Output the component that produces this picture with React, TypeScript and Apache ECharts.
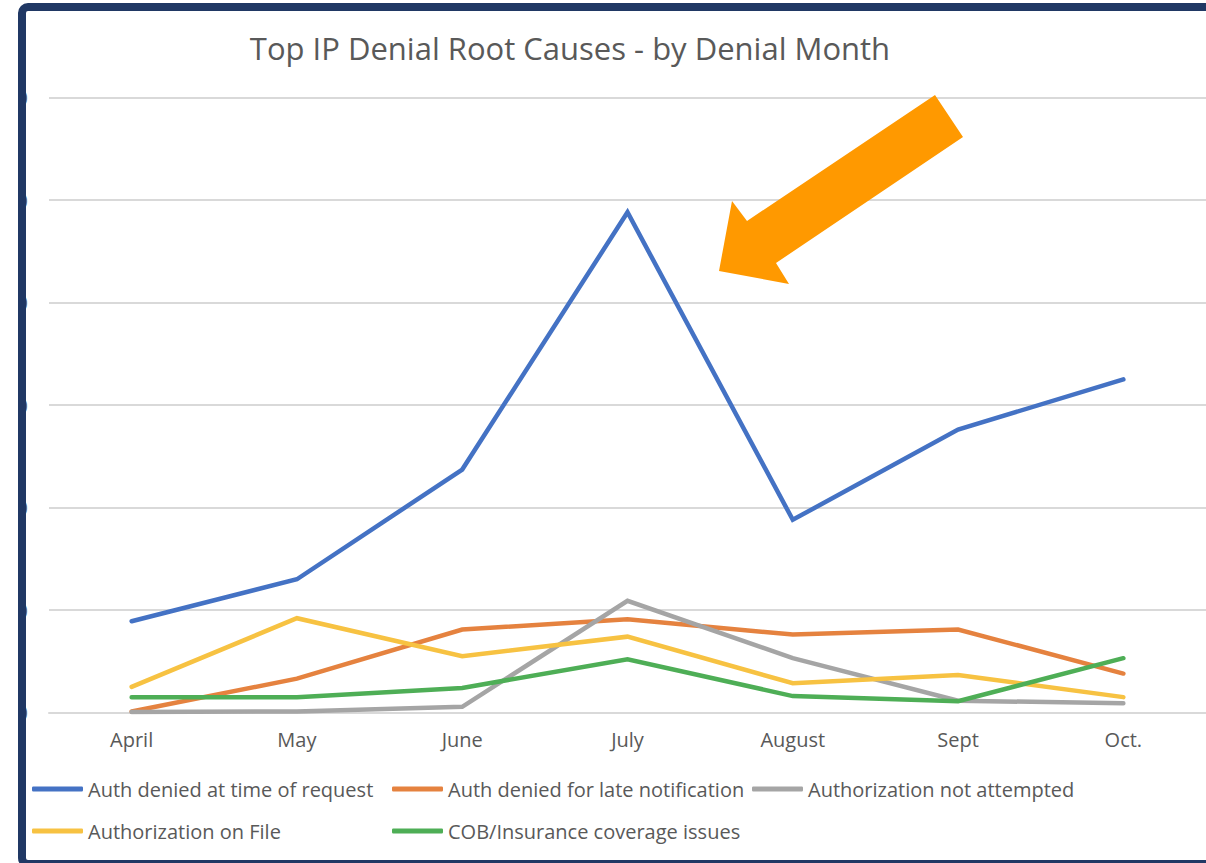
import React, { useEffect, useRef } from "react";
import * as echarts from "echarts";

const months = ["April", "May", "June", "July", "August", "Sept", "Oct."];
const authDeniedRequest = [8.9, 13.0, 23.7, 48.8, 18.8, 27.6, 32.5];
const authDeniedLate = [0.1, 3.3, 8.1, 9.1, 7.6, 8.1, 3.8];
const authNotAttempted = [0.05, 0.1, 0.55, 10.9, 5.3, 1.15, 0.9];
const authOnFile = [2.5, 9.2, 5.5, 7.4, 2.85, 3.65, 1.5];
const cobIssues = [1.5, 1.5, 2.4, 5.2, 1.6, 1.1, 5.3];

const seriesNames = [
  "Auth denied at time of request",
  "Auth denied for late notification",
  "Authorization not attempted",
  "Authorization on File",
  "COB/Insurance coverage issues",
];
const seriesColors = ["#4472C4", "#E5823F", "#A5A5A5", "#F7C242", "#4EAE56"];
const seriesValues = [authDeniedRequest, authDeniedLate, authNotAttempted, authOnFile, cobIssues];
const legendPos = [
  { left: 32, top: 779 },
  { left: 392, top: 779 },
  { left: 752, top: 779 },
  { left: 32, top: 821 },
  { left: 392, top: 821 },
];

const FONT = "'Open Sans', Lato, sans-serif";
const TEXT = "#595959";

export default function App() {
  const ref = useRef<HTMLDivElement>(null);
  useEffect(() => {
    if (!ref.current) return;
    const chart = echarts.init(ref.current, undefined, { renderer: "svg" });
    chart.setOption({
      animation: false,
      backgroundColor: "#ffffff",
      title: {
        text: "Top IP Denial Root Causes - by Denial Month",
        left: 565,
        top: 27,
        textAlign: "center",
        textStyle: { fontFamily: FONT, fontSize: 31, fontWeight: "normal", color: TEXT },
      },
      grid: { left: 49, top: 97.5, width: 1163, height: 615 },
      xAxis: {
        type: "category",
        data: months,
        boundaryGap: true,
        axisLine: { lineStyle: { color: "#D9D9D9", width: 2 } },
        axisTick: { show: false },
        axisLabel: { color: TEXT, fontFamily: FONT, fontSize: 20, margin: 17 },
      },
      yAxis: {
        type: "value",
        min: 0,
        max: 60,
        interval: 10,
        axisLine: { show: false },
        axisTick: { show: false },
        splitLine: { lineStyle: { color: "#D9D9D9", width: 2 } },
        axisLabel: { color: TEXT, fontFamily: FONT, fontSize: 20, margin: 21 },
      },
      legend: seriesNames.map((n, i) => ({
        data: [n],
        left: legendPos[i].left,
        top: legendPos[i].top,
        icon: "roundRect",
        itemWidth: 51,
        itemHeight: 5,
        padding: 0,
        textStyle: { color: TEXT, fontFamily: FONT, fontSize: 20 },
      })),
      series: seriesNames.map((n, i) => ({
        name: n,
        type: "line",
        data: seriesValues[i],
        symbol: "none",
        color: seriesColors[i],
        itemStyle: { color: seriesColors[i] },
        lineStyle: { width: 4.5, color: seriesColors[i], cap: "round", join: "miter" },
      })),
      graphic: [
        {
          type: "polygon",
          z: 50,
          shape: {
            points: [
              [935, 95],
              [963, 137],
              [776, 263],
              [789, 284],
              [719, 271],
              [732, 201],
              [747, 221],
            ],
          },
          style: { fill: "#FF9900" },
        },
        {
          type: "rect",
          z: 99,
          shape: { x: 0, y: 0, width: 19, height: 863 },
          style: { fill: "#ffffff" },
        },
        {
          type: "rect",
          z: 100,
          shape: { x: 22, y: 7, width: 1200, height: 857, r: 6 },
          style: { fill: "transparent", stroke: "#203864", lineWidth: 8 },
        },
      ],
    });
    return () => chart.dispose();
  }, []);
  return (
    <div
      ref={ref}
      style={{ position: "absolute", left: 0, top: 0, width: 1206, height: 863 }}
    />
  );
}
